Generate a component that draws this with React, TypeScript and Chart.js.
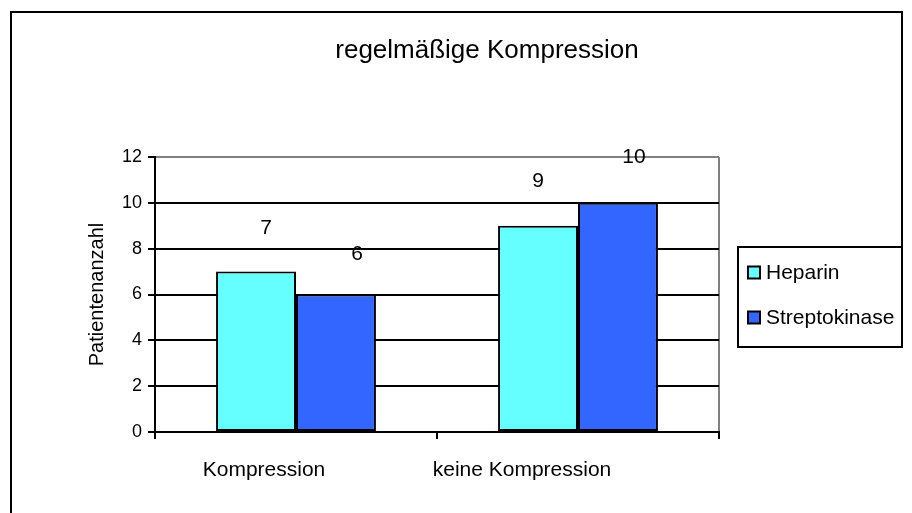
import React, { useEffect, useRef } from "react";
import { Chart, registerables } from "chart.js";

Chart.register(...registerables);

const chartTitle = "regelmäßige Kompression";
const categories = ["Kompression", "keine Kompression"];
const seriesNames = ["Heparin", "Streptokinase"];
const heparinValues = [7, 9];
const streptokinaseValues = [6, 10];
const yTicks = [0, 2, 4, 6, 8, 10, 12];
const yAxisTitle = "Patientenanzahl";

const FONT = "'Liberation Sans', Arial, sans-serif";
const COLORS = ["#66FFFF", "#3366FF"];

// purely visual nudges for the labels (pixels)
const valueLabelNudges = [
  [{ dx: 10, dy: -43 }, { dx: 21, dy: -40 }],
  [{ dx: 0, dy: -45 }, { dx: 16, dy: -46 }],
];
const categoryLabelNudges = [-32, -56];

const decorPlugin = {
  id: "decor",
  afterDraw(chart: any) {
    const { ctx } = chart;
    const xScale = chart.scales.x;
    ctx.save();
    // outer frame
    ctx.strokeStyle = "#000";
    ctx.lineWidth = 2;
    ctx.beginPath();
    ctx.moveTo(11, 513);
    ctx.lineTo(11, 12);
    ctx.lineTo(902, 12);
    ctx.lineTo(902, 348);
    ctx.stroke();

    // title
    ctx.fillStyle = "#000";
    ctx.font = `26px ${FONT}`;
    ctx.textAlign = "center";
    ctx.textBaseline = "alphabetic";
    ctx.fillText(chartTitle, 487, 58);

    // category labels
    ctx.font = `21px ${FONT}`;
    categories.forEach((c, i) => {
      const x = xScale.getPixelForValue(i) + categoryLabelNudges[i];
      ctx.fillText(c, x, 476);
    });

    // value labels
    ctx.font = `21px ${FONT}`;
    ctx.textBaseline = "middle";
    chart.data.datasets.forEach((ds: any, di: number) => {
      const meta = chart.getDatasetMeta(di);
      meta.data.forEach((bar: any, i: number) => {
        const n = valueLabelNudges[i][di];
        ctx.fillText(String(ds.data[i]), bar.x + n.dx, bar.y + n.dy);
      });
    });

    // legend
    const lx = 738, ly = 247, lw = 164, lh = 100;
    ctx.fillStyle = "#fff";
    ctx.fillRect(lx, ly, lw, lh);
    ctx.strokeStyle = "#000";
    ctx.lineWidth = 2;
    ctx.strokeRect(lx, ly, lw, lh);
    ctx.font = `21px ${FONT}`;
    ctx.textAlign = "left";
    ctx.textBaseline = "middle";
    seriesNames.forEach((name, i) => {
      const cy = 272.5 + i * 45;
      ctx.fillStyle = COLORS[i];
      ctx.fillRect(748, cy - 6, 12, 12);
      ctx.strokeRect(748, cy - 6, 12, 12);
      ctx.fillStyle = "#000";
      ctx.fillText(name, 766, cy + 1);
    });
    ctx.restore();
  },
};

export default function App() {
  const canvasRef = useRef<HTMLCanvasElement>(null);

  useEffect(() => {
    const canvas = canvasRef.current;
    if (!canvas) return;
    const chart = new Chart(canvas, {
      type: "bar",
      data: {
        labels: categories,
        datasets: [
          {
            label: seriesNames[0],
            data: heparinValues,
            backgroundColor: COLORS[0],
            borderColor: "#000",
            borderWidth: 2,
            borderSkipped: false,
          },
          {
            label: seriesNames[1],
            data: streptokinaseValues,
            backgroundColor: COLORS[1],
            borderColor: "#000",
            borderWidth: 2,
            borderSkipped: false,
          },
        ],
      },
      options: {
        responsive: false,
        animation: false,
        devicePixelRatio: 1,
        layout: { padding: { top: 157, left: 0, right: 193, bottom: 0 } },
        datasets: {
          bar: { categoryPercentage: 0.567, barPercentage: 1 },
        },
        plugins: {
          legend: { display: false },
          title: { display: false },
          tooltip: { enabled: false },
        },
        scales: {
          x: {
            offset: true,
            ticks: { display: false },
            grid: {
              offset: true,
              drawOnChartArea: true,
              drawTicks: true,
              tickLength: 7,
              lineWidth: 2,
              tickColor: "#000",
              color: (ctx: any) =>
                ctx.type === "scale" || ctx.index === undefined ? "#808080" : "rgba(0,0,0,0)",
            },
            border: { display: true, color: "#000", width: 2 },
            afterFit: (scale: any) => {
              scale.height = 81;
            },
          },
          y: {
            min: 0,
            max: 12,
            afterBuildTicks: (scale: any) => {
              scale.ticks = yTicks.map((v) => ({ value: v }));
            },
            ticks: {
              color: "#000",
              padding: 6,
              font: { family: FONT, size: 18 },
            },
            grid: {
              lineWidth: 2,
              tickLength: 7,
              tickColor: "#000",
              color: (ctx: any) =>
                ctx.tick && ctx.tick.value === 12 ? "#808080" : "#000",
            },
            border: { display: true, color: "#000", width: 2 },
            title: {
              display: true,
              text: yAxisTitle,
              color: "#000",
              font: { family: FONT, size: 20 },
              padding: { top: 85, bottom: 0 },
            },
            afterFit: (scale: any) => {
              scale.width = 155;
            },
          },
        },
      },
      plugins: [decorPlugin],
    });
    return () => chart.destroy();
  }, []);

  return (
    <div
      style={{
        position: "fixed",
        left: 0,
        top: 0,
        width: 912,
        height: 513,
        background: "#fff",
      }}
    >
      <canvas ref={canvasRef} width={912} height={513} />
    </div>
  );
}
